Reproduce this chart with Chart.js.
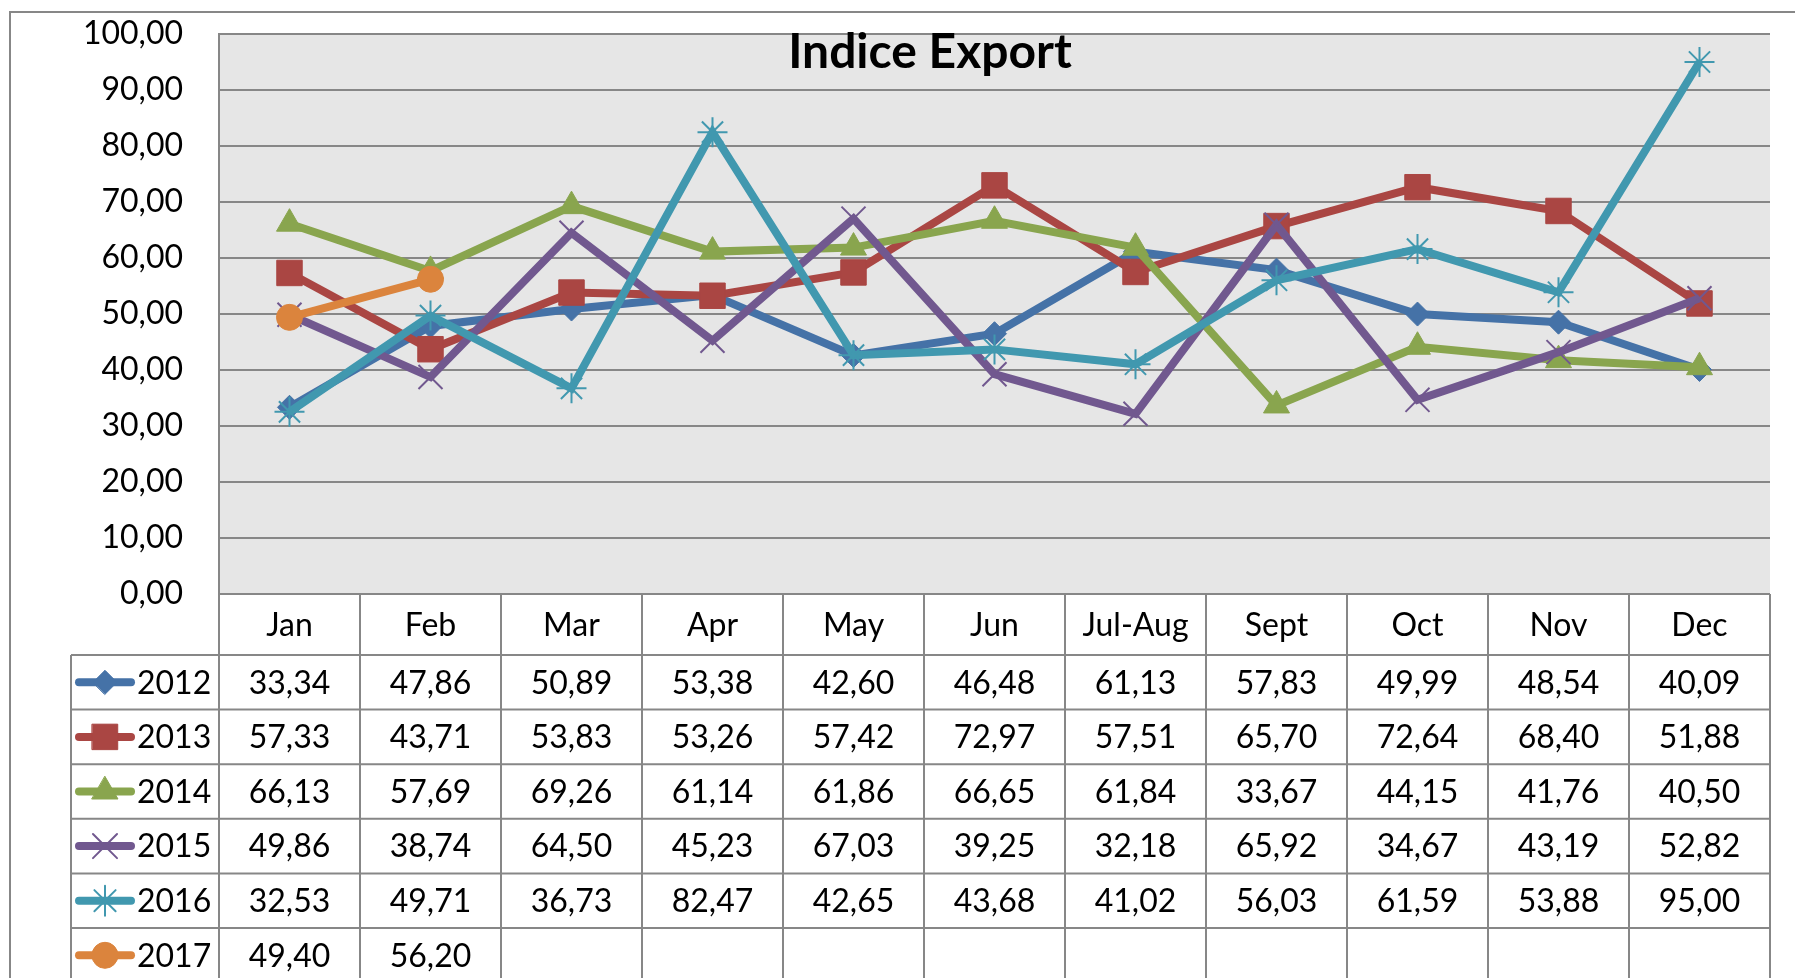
<!DOCTYPE html>
<html>
<head>
<meta charset="utf-8">
<script src="https://cdn.jsdelivr.net/npm/chart.js@4.4.0/dist/chart.umd.min.js"></script>
<style>
  body { margin: 0; background: #fff; }
  #wrap { width: 1795px; height: 978px; }
</style>
</head>
<body>
<div id="wrap"><canvas id="indiceExport" width="1795" height="978"></canvas></div>
<script>
// categories / series
const months = ['Jan', 'Feb', 'Mar', 'Apr', 'May', 'Jun', 'Jul-Aug', 'Sept', 'Oct', 'Nov', 'Dec'];
const years = ['2012', '2013', '2014', '2015', '2016', '2017'];

const v2012 = [33.34, 47.86, 50.89, 53.38, 42.60, 46.48, 61.13, 57.83, 49.99, 48.54, 40.09];
const v2013 = [57.33, 43.71, 53.83, 53.26, 57.42, 72.97, 57.51, 65.70, 72.64, 68.40, 51.88];
const v2014 = [66.13, 57.69, 69.26, 61.14, 61.86, 66.65, 61.84, 33.67, 44.15, 41.76, 40.50];
const v2015 = [49.86, 38.74, 64.50, 45.23, 67.03, 39.25, 32.18, 65.92, 34.67, 43.19, 52.82];
const v2016 = [32.53, 49.71, 36.73, 82.47, 42.65, 43.68, 41.02, 56.03, 61.59, 53.88, 95.00];
const v2017 = [49.40, 56.20, null, null, null, null, null, null, null, null, null];

const yTicks = { min: 0, max: 100, step: 10 };

const seriesValues = [v2012, v2013, v2014, v2015, v2016, v2017];
const colors = ['#4572A7', '#AA4643', '#89A54E', '#71588F', '#4198AF', '#DB843D'];
const markers = [
    { style: 'rectRot', radius: 12, border: 1 },
    { style: 'rect', radius: 18, border: 1 },
    { style: 'triangle', radius: 15, border: 1 },
    { style: 'crossRot', radius: 17, border: 2 },
    { style: 'star', radius: 15, border: 2 },
    { style: 'circle', radius: 13, border: 1 }
];

const gridColor = '#878787';
const fontFamily = 'Lato, "Noto Sans", sans-serif';

function fmt(v) {
    return v.toFixed(2).replace('.', ',');
}

const datasets = years.map((y, i) => ({
    label: y,
    data: seriesValues[i],
    borderColor: colors[i],
    backgroundColor: colors[i],
    borderWidth: 8,
    pointStyle: markers[i].style,
    pointRadius: markers[i].radius,
    pointBorderWidth: markers[i].border,
    pointBackgroundColor: colors[i],
    pointBorderColor: colors[i],
    pointHoverRadius: markers[i].radius,
    tension: 0,
    order: years.length - i // later years on top
}));

// grey plot background + outer chart frame
const backdrop = {
    id: 'backdrop',
    beforeDraw(chart) {
        const { ctx, chartArea: a } = chart;
        ctx.save();
        ctx.fillStyle = '#E6E6E6';
        ctx.fillRect(a.left, a.top, a.right - a.left, a.bottom - a.top);
        ctx.strokeStyle = gridColor;
        ctx.lineWidth = 2;
        ctx.strokeRect(10, 12, 1900, 1100);
        ctx.restore();
    }
};

// overlay title + data table under the plot
const dataTable = {
    id: 'dataTable',
    afterDraw(chart) {
        const { ctx, chartArea: a } = chart;
        const xs = chart.scales.x;
        const colW = (a.right - a.left) / months.length;
        const headTop = a.bottom;
        const headBot = headTop + 61;
        const rowH = 54.6;
        const keyLeft = 71;
        const bottom = 1100;

        ctx.save();
        // title
        ctx.fillStyle = '#000';
        ctx.font = 'bold 48px ' + fontFamily;
        ctx.textAlign = 'center';
        ctx.textBaseline = 'alphabetic';
        ctx.fillText('Indice Export', 930, 68);

        // grid of the table
        ctx.strokeStyle = gridColor;
        ctx.lineWidth = 2;
        ctx.beginPath();
        for (let r = 0; r <= years.length + 1; r++) {
            const y = headBot + r * rowH;
            ctx.moveTo(keyLeft, y);
            ctx.lineTo(a.right, y);
        }
        ctx.moveTo(keyLeft, headBot);
        ctx.lineTo(keyLeft, bottom);
        for (let c = 0; c <= months.length; c++) {
            const x = a.left + c * colW;
            ctx.moveTo(x, headTop);
            ctx.lineTo(x, bottom);
        }
        ctx.stroke();

        // header row
        ctx.font = '32px ' + fontFamily;
        ctx.textBaseline = 'middle';
        ctx.textAlign = 'center';
        ctx.fillStyle = '#000';
        months.forEach((m, i) => {
            ctx.fillText(m, xs.getPixelForValue(i), (headTop + headBot) / 2 + 1);
        });

        // series rows
        years.forEach((yr, s) => {
            const cy = headBot + rowH * (s + 0.5);
            // legend key
            ctx.strokeStyle = colors[s];
            ctx.lineWidth = 8;
            ctx.lineCap = 'round';
            ctx.beginPath();
            ctx.moveTo(79, cy);
            ctx.lineTo(131, cy);
            ctx.stroke();
            ctx.fillStyle = colors[s];
            ctx.lineWidth = markers[s].border;
            Chart.helpers.drawPoint(ctx, {
                pointStyle: markers[s].style,
                radius: markers[s].radius,
                borderWidth: markers[s].border,
                rotation: 0
            }, 105, cy);

            ctx.fillStyle = '#000';
            ctx.textAlign = 'left';
            ctx.fillText(yr, 137, cy + 1);

            ctx.textAlign = 'center';
            seriesValues[s].forEach((v, i) => {
                if (v === null) return;
                ctx.fillText(fmt(v), xs.getPixelForValue(i), cy + 1);
            });
        });
        ctx.restore();
    }
};

new Chart(document.getElementById('indiceExport').getContext('2d'), {
    type: 'line',
    data: {
        labels: months,
        datasets: datasets
    },
    options: {
        responsive: false,
        animation: false,
        devicePixelRatio: 1,
        layout: {
            padding: { top: 34, right: 25, left: 0, bottom: 0 }
        },
        plugins: {
            legend: { display: false },
            title: { display: false },
            tooltip: { enabled: false }
        },
        scales: {
            x: {
                type: 'category',
                offset: true,
                grid: { display: false },
                border: { display: false },
                ticks: { display: false },
                afterFit(scale) { scale.height = 384; }
            },
            y: {
                min: yTicks.min,
                max: yTicks.max,
                ticks: {
                    stepSize: yTicks.step,
                    color: '#000',
                    padding: 36,
                    font: { family: fontFamily, size: 32 },
                    callback: v => fmt(v)
                },
                grid: { color: gridColor, lineWidth: 2, drawTicks: false },
                border: { display: true, color: gridColor, width: 2 },
                afterFit(scale) {
                    scale.width = 219;
                    scale.paddingTop = 0;
                    scale.paddingBottom = 0;
                }
            }
        }
    },
    plugins: [backdrop, dataTable]
});
</script>
</body>
</html>
